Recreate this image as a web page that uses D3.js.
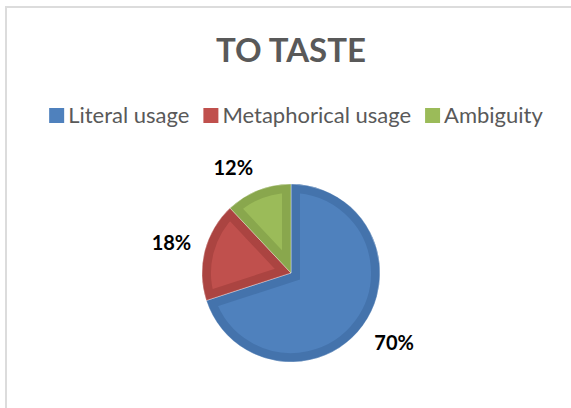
<!DOCTYPE html>
<html>
<head>
<meta charset="utf-8">
<script src="https://cdn.jsdelivr.net/npm/d3@7"></script>
<style>
  html, body { margin: 0; padding: 0; background: #fff; }
  svg { display: block; }
</style>
</head>
<body>
<svg id="chart" width="571" height="408"></svg>
<script>
// Usage shares of the verb "to taste"
const categories = ["Literal usage", "Metaphorical usage", "Ambiguity"];
const values = [70, 18, 12];
const fillColors = ["#4F81BD", "#C0504D", "#9BBB59"];
const edgeColors = ["#4473AC", "#AB4441", "#89A74D"];
const title = "TO TASTE";

const W = 571, H = 408;
const svg = d3.select("#chart");
const defs = svg.append("defs");

// chart area frame (runs past the right and bottom edges)
svg.append("rect")
  .attr("x", 6).attr("y", 7)
  .attr("width", 620).attr("height", 460)
  .attr("fill", "#fff")
  .attr("stroke", "#dcdcdc").attr("stroke-width", 2);

// title
svg.append("text")
  .attr("x", 291).attr("y", 62)
  .attr("text-anchor", "middle")
  .attr("font-family", "Lato, 'Open Sans', sans-serif")
  .attr("font-weight", 700)
  .attr("font-size", 33)
  .attr("fill", "#595959")
  .text(title);

// legend
const legendFont = 22;
const legend = svg.append("g").attr("class", "legend");
const items = legend.selectAll("g").data(categories).join("g");
items.append("rect")
  .attr("width", 15).attr("height", 15)
  .attr("y", -15)
  .attr("fill", (d, i) => fillColors[i]);
items.append("text")
  .attr("x", 19)
  .attr("font-family", "Lato, 'Open Sans', sans-serif")
  .attr("font-size", legendFont)
  .attr("fill", "#595959")
  .text(d => d);
// lay the items out in one centred row
const gap = 14;
const widths = [];
items.each(function () {
  widths.push(19 + this.querySelector("text").getComputedTextLength());
});
const total = d3.sum(widths) + gap * (widths.length - 1);
const start = 296 - total / 2;
items.attr("transform", (d, i) => {
  const x = start + d3.sum(widths.slice(0, i)) + gap * i;
  return `translate(${x},123)`;
});

// pie
const cx = 291, cy = 273, r = 89, border = 9;
const pie = d3.pie().sort(null).value(d => d)(values);
const arc = d3.arc().innerRadius(0).outerRadius(r);
const g = svg.append("g").attr("transform", `translate(${cx},${cy})`);

pie.forEach((p, i) => {
  defs.append("clipPath").attr("id", "clip" + i)
    .append("path").attr("d", arc(p));
});

const slices = g.selectAll("g.slice").data(pie).join("g").attr("class", "slice");
slices.append("path")
  .attr("d", arc)
  .attr("fill", (d, i) => fillColors[i])
  .attr("stroke", (d, i) => edgeColors[i])
  .attr("stroke-width", border * 2)
  .attr("stroke-linejoin", "miter")
  .attr("clip-path", (d, i) => `url(#clip${i})`);

// thin white seam between slices
slices.append("path")
  .attr("d", arc)
  .attr("fill", "none")
  .attr("stroke", "#fff")
  .attr("stroke-width", 0.6)
  .attr("stroke-opacity", 0.6);

// percentage labels placed just outside the rim
const fmt = d3.format(".0%");
const totalVal = d3.sum(values);
const labelFont = 20;
const labels = g.selectAll("text.lbl").data(pie).join("text")
  .attr("class", "lbl")
  .attr("font-family", "Lato, 'Open Sans', sans-serif")
  .attr("font-weight", 700)
  .attr("font-size", labelFont)
  .attr("fill", "#000")
  .attr("text-anchor", "middle")
  .text(d => fmt(d.value / totalVal));

labels.each(function (d) {
  const a = (d.startAngle + d.endAngle) / 2;
  const ux = Math.sin(a), uy = -Math.cos(a);
  const rr = r + 14;
  const px = ux * rr, py = uy * rr;
  const w = this.getBBox().width, h = labelFont * 0.95;
  const clamp = v => Math.max(-1, Math.min(1, v));
  const lx = px + clamp(ux * 3) * w / 2;
  const ly = py + clamp(uy * 2) * h / 2;
  d3.select(this).attr("x", lx).attr("y", ly + labelFont * 0.35);
});
</script>
</body>
</html>
